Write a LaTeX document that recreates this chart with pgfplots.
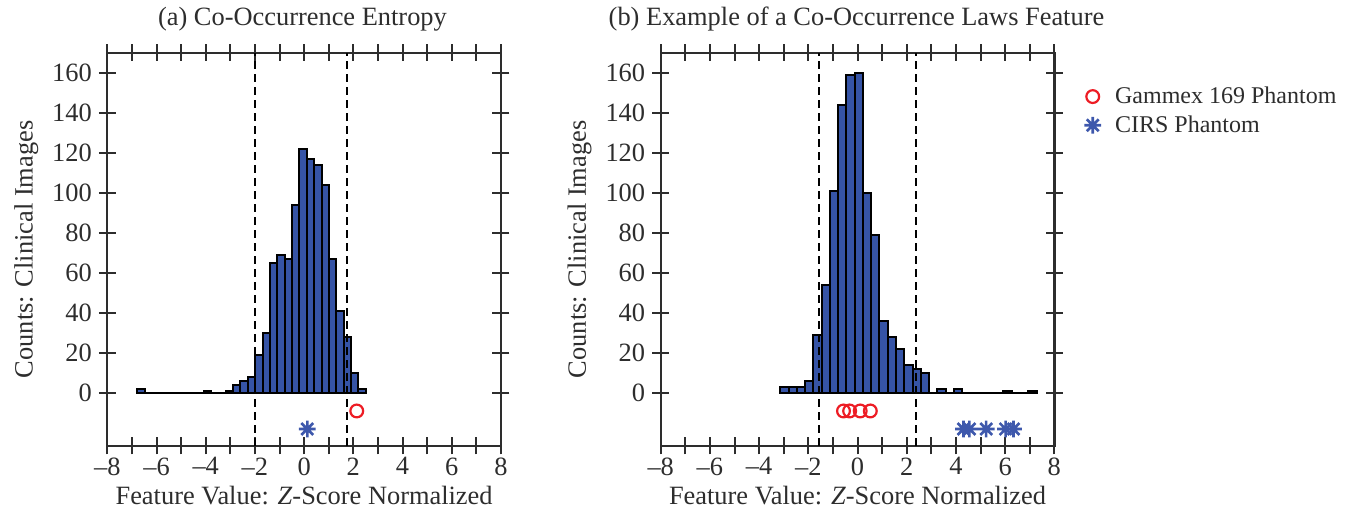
\documentclass[border=0pt]{standalone}
\usepackage{pgfplots}
\pgfplotsset{compat=1.18}
\usepackage{fontspec}
\setmainfont{Liberation Serif}
\definecolor{barblue}{RGB}{54,84,166}
\definecolor{starblue}{RGB}{62,88,172}
\definecolor{mred}{RGB}{237,28,36}
\definecolor{axgray}{RGB}{45,45,45}
\pgfdeclareplotmark{mstar}{%
 \pgfpathmoveto{\pgfqpoint{-\pgfplotmarksize}{0pt}}\pgfpathlineto{\pgfqpoint{\pgfplotmarksize}{0pt}}%
 \pgfpathmoveto{\pgfqpoint{0pt}{-\pgfplotmarksize}}\pgfpathlineto{\pgfqpoint{0pt}{\pgfplotmarksize}}%
 \pgfpathmoveto{\pgfqpoint{-.7071\pgfplotmarksize}{-.7071\pgfplotmarksize}}\pgfpathlineto{\pgfqpoint{.7071\pgfplotmarksize}{.7071\pgfplotmarksize}}%
 \pgfpathmoveto{\pgfqpoint{-.7071\pgfplotmarksize}{.7071\pgfplotmarksize}}\pgfpathlineto{\pgfqpoint{.7071\pgfplotmarksize}{-.7071\pgfplotmarksize}}%
 \pgfusepathqstroke}
\pgfplotsset{
 hist/.style={
  scale only axis, width=196.8pt, height=196.6pt,
  xmin=-8, xmax=8, ymin=-26.5, ymax=170,
  xtick={-8,-6,...,8},
  xticklabels={\textendash8,\textendash6,\textendash4,\textendash2,0,2,4,6,8},
  minor xtick={-7,-5,...,7},
  ytick={0,20,...,160},
  yticklabels={0,20,40,60,80,100,120,140,160},
  tick align=center,
  major tick length=8.5pt, minor tick length=8.5pt,
  every tick/.style={line width=1pt, axgray},
  axis line style={line width=1.2pt, axgray},
  tick label style={font=\fontsize{13.2}{15}\selectfont, text=axgray},
  xticklabel style={yshift=2pt},
  label style={font=\fontsize{13.2}{15}\selectfont, text=axgray},
  xlabel={Feature Value: \textit{Z}-Score Normalized},
  ylabel={Counts: Clinical Images},
  xlabel style={at={(axis description cs:0.5,0)}, anchor=base, yshift=-29.5pt},
  ylabel style={at={(axis description cs:-0.19,0.5)}, anchor=base, rotate=0},
  title style={font=\fontsize{13.2}{15}\selectfont, text=axgray, anchor=base west, yshift=7.4pt},
  clip=false,
 },
}
\begin{document}
\begin{tikzpicture}
\path[use as bounding box] (0,0) rectangle (676pt,256pt);
% ---------------- (a)
\begin{axis}[hist, at={(53.65pt,33pt)}, anchor=south west,
  title={(a) Co-Occurrence Entropy}, title style={at={(axis description cs:0.111,1)}}]
\addplot[ybar interval, fill=barblue, draw=black, line width=1pt] coordinates {
(-6.78,2) (-6.48,0) (-6.18,0) (-5.88,0) (-5.58,0) (-5.28,0) (-4.98,0) (-4.68,0)
(-4.38,0) (-4.08,1) (-3.79,0) (-3.49,0) (-3.19,1) (-2.89,4) (-2.59,6) (-2.29,8)
(-1.99,19) (-1.69,30) (-1.39,65) (-1.09,69) (-0.79,67) (-0.49,94) (-0.19,122)
(0.11,117) (0.41,114) (0.71,104) (1.01,67) (1.31,41) (1.61,28) (1.91,10) (2.20,2) (2.50,2)};
\addplot[black, dashed, line width=1.1pt, dash pattern=on 4pt off 2.5pt] coordinates {(-1.98,-26.5) (-1.98,170)};
\addplot[black, dashed, line width=1.1pt, dash pattern=on 4pt off 2.5pt] coordinates {(1.73,-26.5) (1.73,170)};
\addplot[only marks, mark=o, mark size=3.2pt, mred, line width=1.1pt] coordinates {(2.14,-9)};
\addplot[only marks, mark=mstar, mark size=4.2pt, starblue, line width=1.3pt] coordinates {(0.13,-18)};
\end{axis}
% ---------------- (b)
\begin{axis}[hist, at={(330.35pt,33pt)}, anchor=south west,
  title={(b) Example of a Co-Occurrence Laws Feature}, title style={at={(axis description cs:-0.15,1)}},
  legend style={draw=none, fill=none, at={(axis description cs:1.06,0.935)}, anchor=north west,
    font=\fontsize{12}{14}\selectfont, text=axgray, row sep=0.5pt, column sep=5pt},
  legend cell align=left]
\addplot[ybar interval, fill=barblue, draw=black, line width=1pt, forget plot] coordinates {
(-3.14,3) (-2.80,3) (-2.47,3) (-2.13,6) (-1.80,29) (-1.46,54) (-1.12,101) (-0.79,144)
(-0.45,159) (-0.12,160) (0.22,100) (0.56,79) (0.89,36) (1.23,28) (1.56,22) (1.90,14)
(2.24,12) (2.57,10) (2.91,0) (3.24,2) (3.58,0) (3.92,2) (4.25,0) (4.59,0) (4.92,0)
(5.26,0) (5.60,0) (5.93,1) (6.27,0) (6.60,0) (6.94,1) (7.28,1)};
\addplot[black, dashed, line width=1.1pt, dash pattern=on 4pt off 2.5pt, forget plot] coordinates {(-1.58,-26.5) (-1.58,170)};
\addplot[black, dashed, line width=1.1pt, dash pattern=on 4pt off 2.5pt, forget plot] coordinates {(2.37,-26.5) (2.37,170)};
\addplot[only marks, mark=o, mark size=3.2pt, mred, line width=1.1pt] coordinates {(-0.57,-9) (-0.32,-9) (0.11,-9) (0.52,-9)};
\addlegendentry{Gammex 169 Phantom}
\addplot[only marks, mark=mstar, mark size=4.2pt, starblue, line width=1.3pt] coordinates {(4.31,-18) (4.55,-18) (5.23,-18) (6.02,-18) (6.34,-18)};
\addlegendentry{CIRS Phantom}
\end{axis}
\end{tikzpicture}
\end{document}
